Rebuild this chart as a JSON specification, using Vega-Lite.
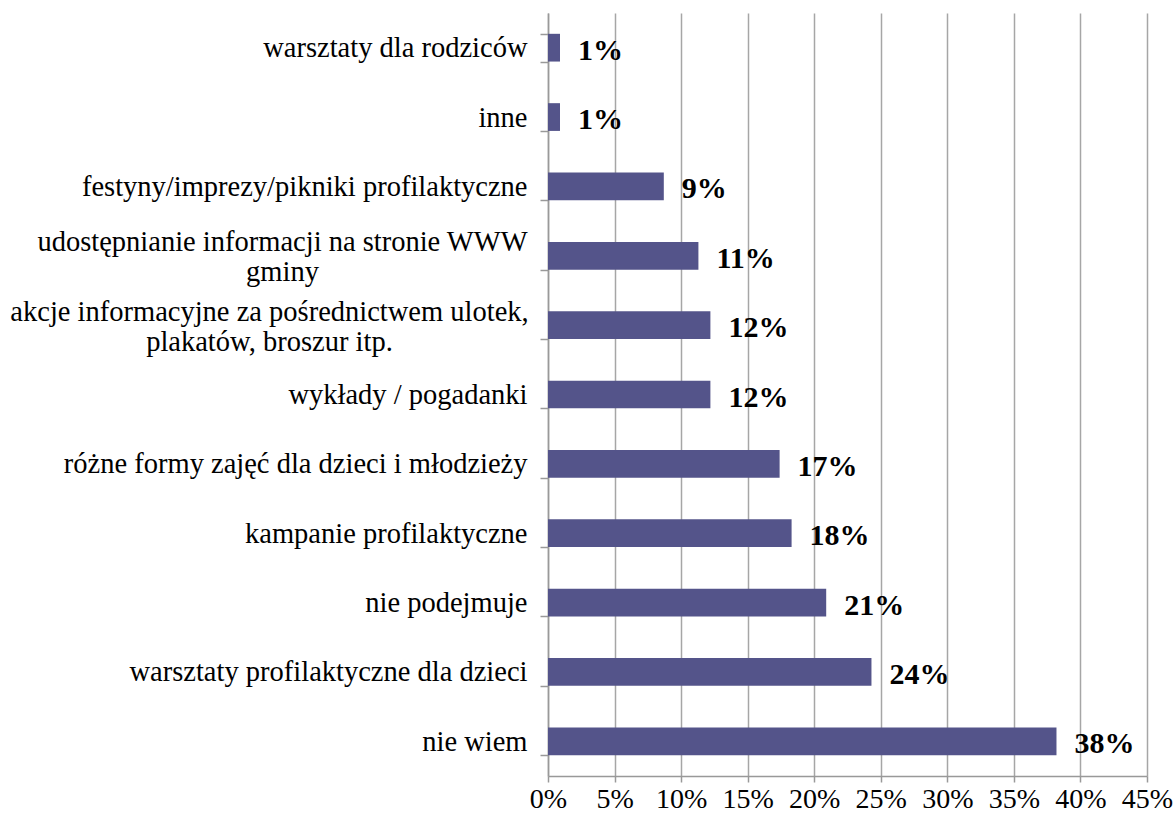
{
  "$schema": "https://vega.github.io/schema/vega-lite/v6.json",
  "width": 599,
  "height": 763,
  "autosize": {"type": "none"},
  "padding": {"left": 548, "top": 13, "right": 28, "bottom": 45},
  "background": "white",
  "config": {"view": {"stroke": null}},
  "data": {
    "values": [
      {"category": "warsztaty dla rodziców", "value": 0.009},
      {"category": "inne", "value": 0.009},
      {"category": "festyny/imprezy/pikniki profilaktyczne", "value": 0.087},
      {"category": "udostępnianie informacji na stronie WWW\ngminy", "value": 0.113},
      {"category": "akcje informacyjne za pośrednictwem ulotek,\nplakatów, broszur itp.", "value": 0.122},
      {"category": "wykłady / pogadanki", "value": 0.122},
      {"category": "różne formy zajęć dla dzieci i młodzieży", "value": 0.174},
      {"category": "kampanie profilaktyczne", "value": 0.183},
      {"category": "nie podejmuje", "value": 0.209},
      {"category": "warsztaty profilaktyczne dla dzieci", "value": 0.243},
      {"category": "nie wiem", "value": 0.382}
    ]
  },
  "encoding": {
    "y": {
      "field": "category",
      "type": "nominal",
      "sort": [
        "warsztaty dla rodziców",
        "inne",
        "festyny/imprezy/pikniki profilaktyczne",
        "udostępnianie informacji na stronie WWW\ngminy",
        "akcje informacyjne za pośrednictwem ulotek,\nplakatów, broszur itp.",
        "wykłady / pogadanki",
        "różne formy zajęć dla dzieci i młodzieży",
        "kampanie profilaktyczne",
        "nie podejmuje",
        "warsztaty profilaktyczne dla dzieci",
        "nie wiem"
      ],
      "scale": {"paddingInner": 0.6, "paddingOuter": 0.3},
      "axis": {
        "title": null,
        "labelExpr": "isValid(datum.value) ? split(datum.value, '\\n') : ''",
        "labelFont": "Liberation Serif",
        "labelFontSize": 28.5,
        "labelColor": "#000000",
        "labelLineHeight": 30,
        "labelAlign": {
          "condition": {"test": "isValid(datum.value) && indexof(datum.value, '\\n') >= 0", "value": "center"},
          "value": "right"
        },
        "labelPadding": {
          "condition": [
            {"test": "isValid(datum.value) && indexof(datum.value, 'akcje') === 0", "value": 271},
            {"test": "isValid(datum.value) && indexof(datum.value, 'udost') === 0", "value": 258}
          ],
          "value": 13
        },
        "labelOffset": {
          "condition": {"test": "isValid(datum.value) && indexof(datum.value, '\\n') >= 0", "value": -14},
          "value": 0
        },
        "labelLimit": 0,
        "tickBand": "extent",
        "tickSize": 8,
        "tickColor": "#999999",
        "tickWidth": 1.5,
        "domainColor": "#999999",
        "domainWidth": 1.5
      }
    },
    "x": {
      "field": "value",
      "type": "quantitative",
      "scale": {"domain": [0, 0.45], "nice": false},
      "axis": {
        "title": null,
        "values": [0, 0.05, 0.1, 0.15, 0.2, 0.25, 0.3, 0.35, 0.4, 0.45],
        "format": ".0%",
        "labelFont": "Liberation Serif",
        "labelFontSize": 28,
        "labelColor": "#000000",
        "labelPadding": 3,
        "labelFlush": false,
        "tickSize": 6,
        "tickColor": "#999999",
        "tickWidth": 1.5,
        "domainColor": "#999999",
        "domainWidth": 1.5,
        "grid": true,
        "gridColor": "#a6a6a6",
        "gridWidth": 1.5
      }
    }
  },
  "layer": [
    {"mark": {"type": "bar", "color": "#54548a"}},
    {
      "mark": {"type": "text", "align": "left", "baseline": "middle", "dx": 18, "dy": 3, "font": "Liberation Serif", "fontWeight": "bold", "fontSize": 30, "color": "#000000"},
      "encoding": {"text": {"field": "value", "type": "quantitative", "format": ".0%"}}
    }
  ]
}
